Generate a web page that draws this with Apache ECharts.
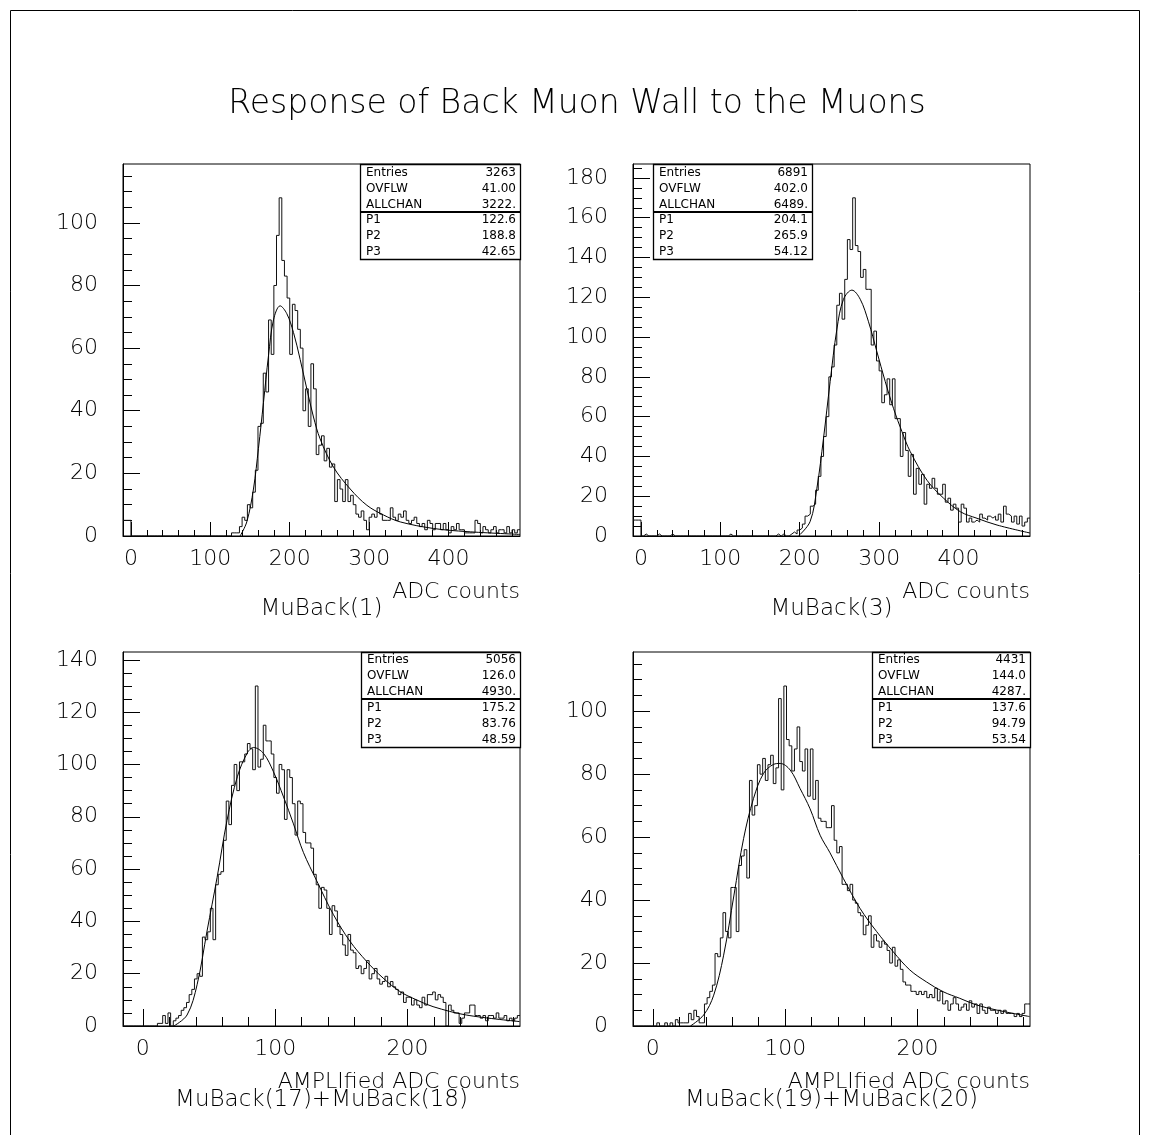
<!DOCTYPE html>
<html><head><meta charset="utf-8">
<script src="https://cdn.jsdelivr.net/npm/echarts@6/dist/echarts.min.js"></script>
<style>html,body{margin:0;padding:0;background:#fff}#c{width:1150px;height:1135px}</style>
</head><body><div id="c"></div>
<script>
// ---------------- DATA ----------------
const chartTitle = "Response of Back Muon Wall to the Muons";

const histNames = ["MuBack(1)", "MuBack(3)", "MuBack(17)+MuBack(18)", "MuBack(19)+MuBack(20)"];
const xTitles = ["ADC counts", "ADC counts", "AMPLIfied ADC counts", "AMPLIfied ADC counts"];

// histogram ranges (150 bins each)
const xRanges = [[-10, 490], [-10, 490], [-15, 285], [-15, 285]];
const yMaxes = [118.8, 187, 143, 118.8];

// tick labels
const xTickLabels = [[0, 100, 200, 300, 400], [0, 100, 200, 300, 400], [0, 100, 200], [0, 100, 200]];
const yTickLabels = [[0, 20, 40, 60, 80, 100], [0, 20, 40, 60, 80, 100, 120, 140, 160, 180],
                     [0, 20, 40, 60, 80, 100, 120, 140], [0, 20, 40, 60, 80, 100]];

// bin contents
const counts1 = [5,5,5,
  0,0,0,0,0,0,0,0,0,0,0,0,0,0,0,0,0,0,0,0,0,0,0,0,0,0,0,0,0,0,0,0,0,0,0,0,0,0,
  1,1,1,
  3,6,5,10,9,14,21,35,36,52,
  46,69,58,80,96,108,88,83,76,58,
  74,72,66,60,40,47,35,55,47,26,
  29,32,24,28,22,23,11,18,15,11,
  18,11,13,10,7,6,8,5,2,6,
  7,6,9,7,5,5,5,9,6,5,
  7,6,8,5,4,5,6,4,3,4,
  2,5,4,2,4,4,2,4,2,1,
  3,2,4,2,2,1,1,1,1,5,
  4,1,3,2,1,2,3,1,2,2,
  1,3,1,2,1,2];

const counts2 = [8,8,8,0,1,0,0,0,0,1,
  0,0,0,0,1,0,0,0,0,0,
  0,0,0,0,0,0,0,0,0,0,
  0,0,0,0,0,0,1,0,0,0,
  0,0,0,0,0,0,0,0,0,0,
  0,0,0,0,1,0,1,0,0,1,
  2,1,3,4,6,10,11,15,16,23,
  30,40,50,60,80,85,96,116,122,109,
  129,149,144,170,146,143,130,134,124,124,
  96,103,88,83,67,71,79,66,79,59,
  59,40,52,43,30,41,21,34,26,31,
  16,26,24,29,24,21,21,26,17,19,
  13,16,14,7,16,14,7,9,7,8,
  7,11,9,8,10,9,10,8,11,7,
  15,11,10,7,10,6,10,5,7,9];

const counts3 = [0,0,0,0,0,0,0,0,0,0,
  0,0,0,1,1,4,1,5,0,2,
  3,4,6,7,9,12,14,18,20,19,
  34,33,36,45,33,54,58,59,71,86,
  77,92,100,90,101,101,104,108,106,98,
  130,99,102,115,109,109,104,95,89,100,
  98,79,98,95,85,73,86,85,74,70,
  70,68,58,54,45,53,52,45,35,46,
  44,38,35,31,27,35,29,28,22,23,
  20,22,25,18,20,22,18,16,17,19,
  15,17,15,14,12,13,9,11,11,8,
  10,8,7,11,8,12,12,13,10,12,
  11,9,0,8,6,5,5,1,3,5,
  5,8,8,4,4,3,4,2,4,4,
  3,5,3,3,4,2,3,2,3,4];

const counts4 = [0,0,0,0,0,0,0,0,0,1,
  0,0,1,0,1,0,2,1,1,1,
  1,4,2,5,3,1,1,7,9,11,
  13,23,22,28,36,30,28,44,44,30,
  51,54,56,47,78,67,70,83,80,85,
  78,83,86,77,82,104,75,108,91,89,
  81,88,95,84,81,88,73,88,72,78,
  66,65,65,63,63,70,59,55,57,45,
  45,43,45,40,39,36,35,29,32,35,
  25,29,27,25,27,26,24,20,25,19,
  21,18,14,13,13,11,11,10,11,10,
  11,9,10,9,12,8,11,7,8,5,
  7,9,7,5,6,7,5,8,6,7,
  4,7,5,4,6,5,5,4,5,4,
  5,4,4,4,3,4,3,4,7,7];

const allCounts = [counts1, counts2, counts3, counts4];

// fitted curves
const fit1X = [137.5,145.9,154.3,160.6,166.9,173.2,179.5,187.9,196.3,204.7,213.1,221.5,229.9,238.3,255.1,276.2,297.2,318.2,339.2,381.2,423.3,490];
const fit1Y = [0,4.5,15,28,42.6,57.5,69,73.5,71,65,56.4,47,38,31,22,15,9.8,6.7,4.5,2.4,1.4,0.5];
const fit2X = [198.4,213,221.6,229.9,238.3,246.8,255.1,265.7,276.2,286.6,297.2,307.7,318.2,328.8,339.2,360.3,381.2,402.3,423.3,448.5,490];
const fit2Y = [0,7.2,24,49,77.6,104,119,123.6,119,107.7,92.6,77.6,64,52.4,42.4,28,19,12.2,8.9,5.5,1.5];
const fit3X = [23.4,33.4,41,48.5,56.1,63.6,71.4,78.7,83.6,91.2,98.7,106.3,113.8,121.3,131.4,143.9,156.5,169.1,181.6,194.2,206.8,219.3,244.4,284.6];
const fit3Y = [0,4.2,15.8,36.3,56.8,78.6,95.3,104.2,106.5,104.2,97.2,87.6,77.3,66.4,55.5,42.7,32.4,24.7,18.3,13.2,10,7.4,4.2,1.7];
const fit4X = [28.4,38.4,46,53.5,61.3,68.6,76.1,83.6,91.2,96.2,103.8,111.3,118.8,126.4,133.9,143.9,156.5,169.1,181.6,194.2,206.8,219.3,231.9,244.5,259.5,284.6];
const fit4Y = [0,3.5,9.8,22.5,41.6,59.6,72.3,80.2,83.1,83.4,81.3,75.4,69,60.6,55,46.9,37.4,30,23.6,17.8,14,10.9,8.8,6.7,5.1,3];
const fitXs = [fit1X, fit2X, fit3X, fit4X];
const fitYs = [fit1Y, fit2Y, fit3Y, fit4Y];

// statistics boxes
const statNamesTop = ["Entries", "OVFLW", "ALLCHAN"];
const statNamesBottom = ["P1", "P2", "P3"];
const statValuesTop = [["3263", "41.00", "3222."], ["6891", "402.0", "6489."], ["5056", "126.0", "4930."], ["4431", "144.0", "4287."]];
const statValuesBottom = [["122.6", "188.8", "42.65"], ["204.1", "265.9", "54.12"], ["175.2", "83.76", "48.59"], ["137.6", "94.79", "53.54"]];

// ---------------- LAYOUT / STYLE ----------------
const FONT = "'DejaVu Sans', sans-serif";
const W = 200; // light weight
const TXT = '#000';
const layout = [
  {left: 123, top: 164, width: 397, height: 372},
  {left: 633, top: 164, width: 397, height: 372},
  {left: 123, top: 652, width: 397, height: 374},
  {left: 633, top: 652, width: 397, height: 374}
];
const xMajLen = [14, 14, 17, 17], xMinLen = [6, 6, 9, 9];
const boxes = [
  {x: 360, y: 164, w: 160, h: 95, sep: 48},
  {x: 653, y: 164, w: 159, h: 95, sep: 48},
  {x: 361, y: 652, w: 159, h: 95, sep: 47},
  {x: 872, y: 652, w: 158, h: 95, sep: 47}
];
const xTitleY = [592, 592, 1082, 1082];
const nameY = [609, 609, 1100, 1100];

function range(a, b, step) { const r = []; for (let v = a; v <= b + 1e-9; v += step) r.push(v); return r; }

const grids = [], xAxes = [], yAxes = [], series = [], graphics = [];

layout.forEach((g, k) => {
  grids.push({left: g.left, top: g.top, width: g.width, height: g.height, show: true,
    borderColor: '#000', borderWidth: 1, backgroundColor: 'transparent', containLabel: false});
  const [xMin, xMax] = xRanges[k];
  const xMinor = range(Math.ceil(xMin / 20) * 20, xMax, 20).filter(v => v % 100 !== 0);
  const yMinor = range(5, yMaxes[k], 5).filter(v => v % 20 !== 0);
  const yMajor = yTickLabels[k];
  const xMajor = xTickLabels[k];
  xAxes.push({type: 'value', gridIndex: k, position: 'bottom', min: xMin, max: xMax,
    axisLine: {show: true, onZero: false, lineStyle: {color: '#000', width: 1}},
    axisTick: {show: true, inside: true, length: xMajLen[k], customValues: xMajor, lineStyle: {color: '#000', width: 1}},
    axisLabel: {show: true, customValues: xMajor, margin: 12, fontSize: 22, fontWeight: W, fontFamily: FONT, color: TXT},
    splitLine: {show: false}});
  xAxes.push({type: 'value', gridIndex: k, position: 'bottom', min: xMin, max: xMax,
    axisLine: {show: false, onZero: false},
    axisTick: {show: true, inside: true, length: xMinLen[k], customValues: xMinor, lineStyle: {color: '#000', width: 1}},
    axisLabel: {show: false}, splitLine: {show: false}});
  yAxes.push({type: 'value', gridIndex: k, position: 'left', min: 0, max: yMaxes[k],
    axisLine: {show: true, onZero: false, lineStyle: {color: '#000', width: 1}},
    axisTick: {show: true, inside: true, length: 17, customValues: yMajor, lineStyle: {color: '#000', width: 1}},
    axisLabel: {show: true, customValues: yMajor, margin: 25, fontSize: 22, fontWeight: W, fontFamily: FONT, color: TXT},
    splitLine: {show: false}});
  yAxes.push({type: 'value', gridIndex: k, position: 'left', min: 0, max: yMaxes[k],
    axisLine: {show: false, onZero: false},
    axisTick: {show: true, inside: true, length: 9, customValues: yMinor, lineStyle: {color: '#000', width: 1}},
    axisLabel: {show: false}, splitLine: {show: false}});

  const cts = allCounts[k];
  const w = (xMax - xMin) / cts.length;
  const pts = cts.map((c, i) => [xMin + i * w, c]);
  pts.push([xMax, cts[cts.length - 1]]);
  series.push({type: 'line', name: histNames[k], xAxisIndex: 2 * k, yAxisIndex: 2 * k, data: pts,
    step: 'end', symbol: 'none', clip: true, lineStyle: {color: '#111', width: 1}, z: 2});
  series.push({type: 'line', xAxisIndex: 2 * k, yAxisIndex: 2 * k,
    data: fitXs[k].map((x, i) => [x, fitYs[k][i]]), smooth: 0.35, symbol: 'none', clip: true,
    lineStyle: {color: '#000', width: 1}, z: 3});

  graphics.push({type: 'text', x: g.left + g.width, y: xTitleY[k], z: 10,
    style: {text: xTitles[k], font: W + ' 22px ' + FONT, fill: TXT, align: 'right', verticalAlign: 'middle'}});
  graphics.push({type: 'text', x: g.left + g.width / 2, y: nameY[k], z: 10,
    style: {text: histNames[k], font: W + ' 23px ' + FONT, fill: TXT, align: 'center', verticalAlign: 'middle'}});

  const b = boxes[k];
  graphics.push({type: 'rect', z: 20, shape: {x: b.x + 0.5, y: b.y + 0.5, width: b.w, height: b.h},
    style: {fill: '#fff', stroke: '#000', lineWidth: 1.3}});
  graphics.push({type: 'line', z: 21, shape: {x1: b.x, y1: b.y + b.sep, x2: b.x + b.w, y2: b.y + b.sep},
    style: {stroke: '#000', lineWidth: 2}});
  const rowH = b.sep / 3, rowH2 = (b.h - b.sep) / 3;
  statNamesTop.forEach((n, i) => {
    const yy = b.y + rowH * (i + 0.5) + 0.5;
    graphics.push({type: 'text', z: 22, x: b.x + 6, y: yy, style: {text: n, font: '12px ' + FONT, fill: '#000', align: 'left', verticalAlign: 'middle'}});
    graphics.push({type: 'text', z: 22, x: b.x + b.w - 4, y: yy, style: {text: statValuesTop[k][i], font: '12px ' + FONT, fill: '#000', align: 'right', verticalAlign: 'middle'}});
  });
  statNamesBottom.forEach((n, i) => {
    const yy = b.y + b.sep + rowH2 * (i + 0.5) + 0.5;
    graphics.push({type: 'text', z: 22, x: b.x + 6, y: yy, style: {text: n, font: '12px ' + FONT, fill: '#000', align: 'left', verticalAlign: 'middle'}});
    graphics.push({type: 'text', z: 22, x: b.x + b.w - 4, y: yy, style: {text: statValuesBottom[k][i], font: '12px ' + FONT, fill: '#000', align: 'right', verticalAlign: 'middle'}});
  });
});

graphics.push({type: 'text', x: 577, y: 104, z: 10,
  style: {text: chartTitle, font: W + ' 33px ' + FONT, fill: TXT, align: 'center', verticalAlign: 'middle'}});
graphics.push({type: 'rect', z: 1, shape: {x: 10.5, y: 10.5, width: 1129, height: 1140},
  style: {fill: 'none', stroke: '#000', lineWidth: 1}});

const chart = echarts.init(document.getElementById('c'), null, {renderer: 'canvas'});
chart.setOption({
  animation: false,
  backgroundColor: '#fff',
  grid: grids,
  xAxis: xAxes,
  yAxis: yAxes,
  series: series,
  graphic: graphics
});
</script>
</body></html>
